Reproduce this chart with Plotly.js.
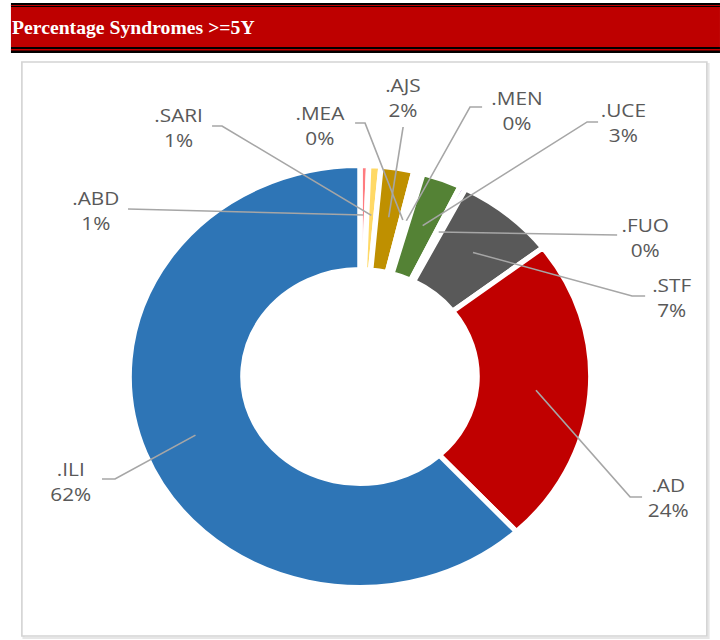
<!DOCTYPE html>
<html>
<head>
<meta charset="utf-8">
<script src="https://cdn.plot.ly/plotly-3.0.1.min.js"></script>
<style>
html,body{margin:0;padding:0;background:#fff;overflow:hidden;width:720px;height:640px;}
/* the reference picture is stretched horizontally; reproduce it with a uniform x-scale */
#chart{width:658px;height:640px;transform:scaleX(1.0942);transform-origin:0 0;}
</style>
</head>
<body>
<div id="chart"></div>
<script>
// ---- data ----
const categories = ['.ABD', '.SARI', '.AJS', '.MEA', '.MEN', '.UCE', '.FUO', '.STF', '.AD', '.ILI'];
const values = [0.6, 0.85, 2.3, 0.3, 0.35, 2.75, 0.4, 7.0, 23.6, 61.85];
const chartTitle = 'Percentage Syndromes >=5Y';

// ---- styles / layout positions (pixels, before the x-stretch) ----
const colors = ['#FF7C80', '#FFD966', '#BF9000', '#A5A5A5', '#FFC000', '#548235', '#9966CC', '#595959', '#C00000', '#2E75B6'];
const W = 658, H = 640;
const CX = 329, CY = 376.5, R = 211, HOLE = 0.507, BORDER = 5;
const labelPos = [[87.8, 210], [162.7, 127], [368.4, 98], [292.5, 125], [472.6, 110], [569.5, 123], [589.6, 238], [614.3, 297], [610.6, 497], [64, 481]];
const elbows = [
  [[117, 209]],
  [[193.8, 126], [202.9, 126]],
  [[368.4, 127]],
  [[324.5, 123], [333.6, 123]],
  [[440.6, 107], [429.6, 107]],
  [[546.6, 122], [536.6, 122]],
  [[564, 235]],
  [[589.6, 296], [577.7, 296]],
  [[586.8, 497], [575.9, 497]],
  [[93.2, 479], [105.1, 479]]
];

const px = x => x / W;
const py = y => 1 - y / H;

const total = values.reduce((a, b) => a + b, 0);
const pctText = values.map(v => Math.round(v / total * 100) + '%');

// leader line endpoints from slice mid-angles
let cum = 0;
const endpoints = values.map(v => {
  const mid = (cum + v / 2) / total * 2 * Math.PI;
  cum += v;
  const r = 0.765 * R;
  return [CX + r * Math.sin(mid), CY - r * Math.cos(mid)];
});

const shapes = [];
// header bars
const hx0 = px(10), hx1 = 1;
shapes.push({type: 'rect', xref: 'paper', yref: 'paper', x0: hx0, x1: hx1, y0: py(7), y1: py(3), fillcolor: '#000', line: {width: 0}, layer: 'below'});
shapes.push({type: 'rect', xref: 'paper', yref: 'paper', x0: hx0, x1: hx1, y0: py(6), y1: py(5), fillcolor: '#C00000', line: {width: 0}, layer: 'below'});
shapes.push({type: 'rect', xref: 'paper', yref: 'paper', x0: hx0, x1: hx1, y0: py(47), y1: py(7), fillcolor: '#BE0000', line: {width: 0}, layer: 'below'});
shapes.push({type: 'rect', xref: 'paper', yref: 'paper', x0: hx0, x1: hx1, y0: py(53), y1: py(47), fillcolor: '#000', line: {width: 0}, layer: 'below'});
shapes.push({type: 'rect', xref: 'paper', yref: 'paper', x0: hx0, x1: hx1, y0: py(50.5), y1: py(49), fillcolor: '#C00000', line: {width: 0}, layer: 'below'});
// chart box with slight shadow
shapes.push({type: 'rect', xref: 'paper', yref: 'paper', x0: px(21.5), x1: px(647.5), y0: py(638), y1: py(64), line: {color: '#e6e6e6', width: 2}, layer: 'below'});
shapes.push({type: 'rect', xref: 'paper', yref: 'paper', x0: px(20), x1: px(646), y0: py(636), y1: py(62), line: {color: '#d4d4d4', width: 1.5}, fillcolor: '#fff', layer: 'below'});

// leader lines and labels
const annotations = [];
categories.forEach((c, i) => {
  const pts = elbows[i].concat([endpoints[i]]);
  const path = pts.map((p, k) => (k ? 'L' : 'M') + px(p[0]).toFixed(5) + ',' + py(p[1]).toFixed(5)).join(' ');
  shapes.push({type: 'path', xref: 'paper', yref: 'paper', path: path, line: {color: '#A6A6A6', width: 1.5}, layer: 'above'});
  annotations.push({
    xref: 'paper', yref: 'paper', x: px(labelPos[i][0]), y: py(labelPos[i][1]),
    xanchor: 'center', yanchor: 'middle', showarrow: false, align: 'center',
    text: c + '<br>' + pctText[i],
    font: {family: 'Open Sans, Noto Sans, sans-serif', size: 19, color: '#595959'}
  });
});

const trace = {
  type: 'pie',
  labels: categories,
  values: values,
  sort: false,
  direction: 'clockwise',
  rotation: 0,
  hole: HOLE,
  textinfo: 'none',
  hoverinfo: 'label+percent',
  marker: {colors: colors, line: {color: '#ffffff', width: BORDER}},
  domain: {x: [px(CX - R), px(CX + R)], y: [py(CY + R), py(CY - R)]},
  showlegend: false
};

const layout = {
  width: W, height: H,
  margin: {l: 0, r: 0, t: 0, b: 0},
  paper_bgcolor: '#fff',
  showlegend: false,
  title: {
    text: '<b>' + chartTitle.replace('>', '&gt;') + '</b>',
    xref: 'paper', yref: 'paper', x: px(11), xanchor: 'left', y: py(27.5), yanchor: 'middle',
    font: {family: 'Liberation Serif, Times New Roman, serif', size: 18, color: '#ffffff'}
  },
  shapes: shapes,
  annotations: annotations
};

Plotly.newPlot('chart', [trace], layout, {displayModeBar: false, staticPlot: true});
</script>
</body>
</html>
